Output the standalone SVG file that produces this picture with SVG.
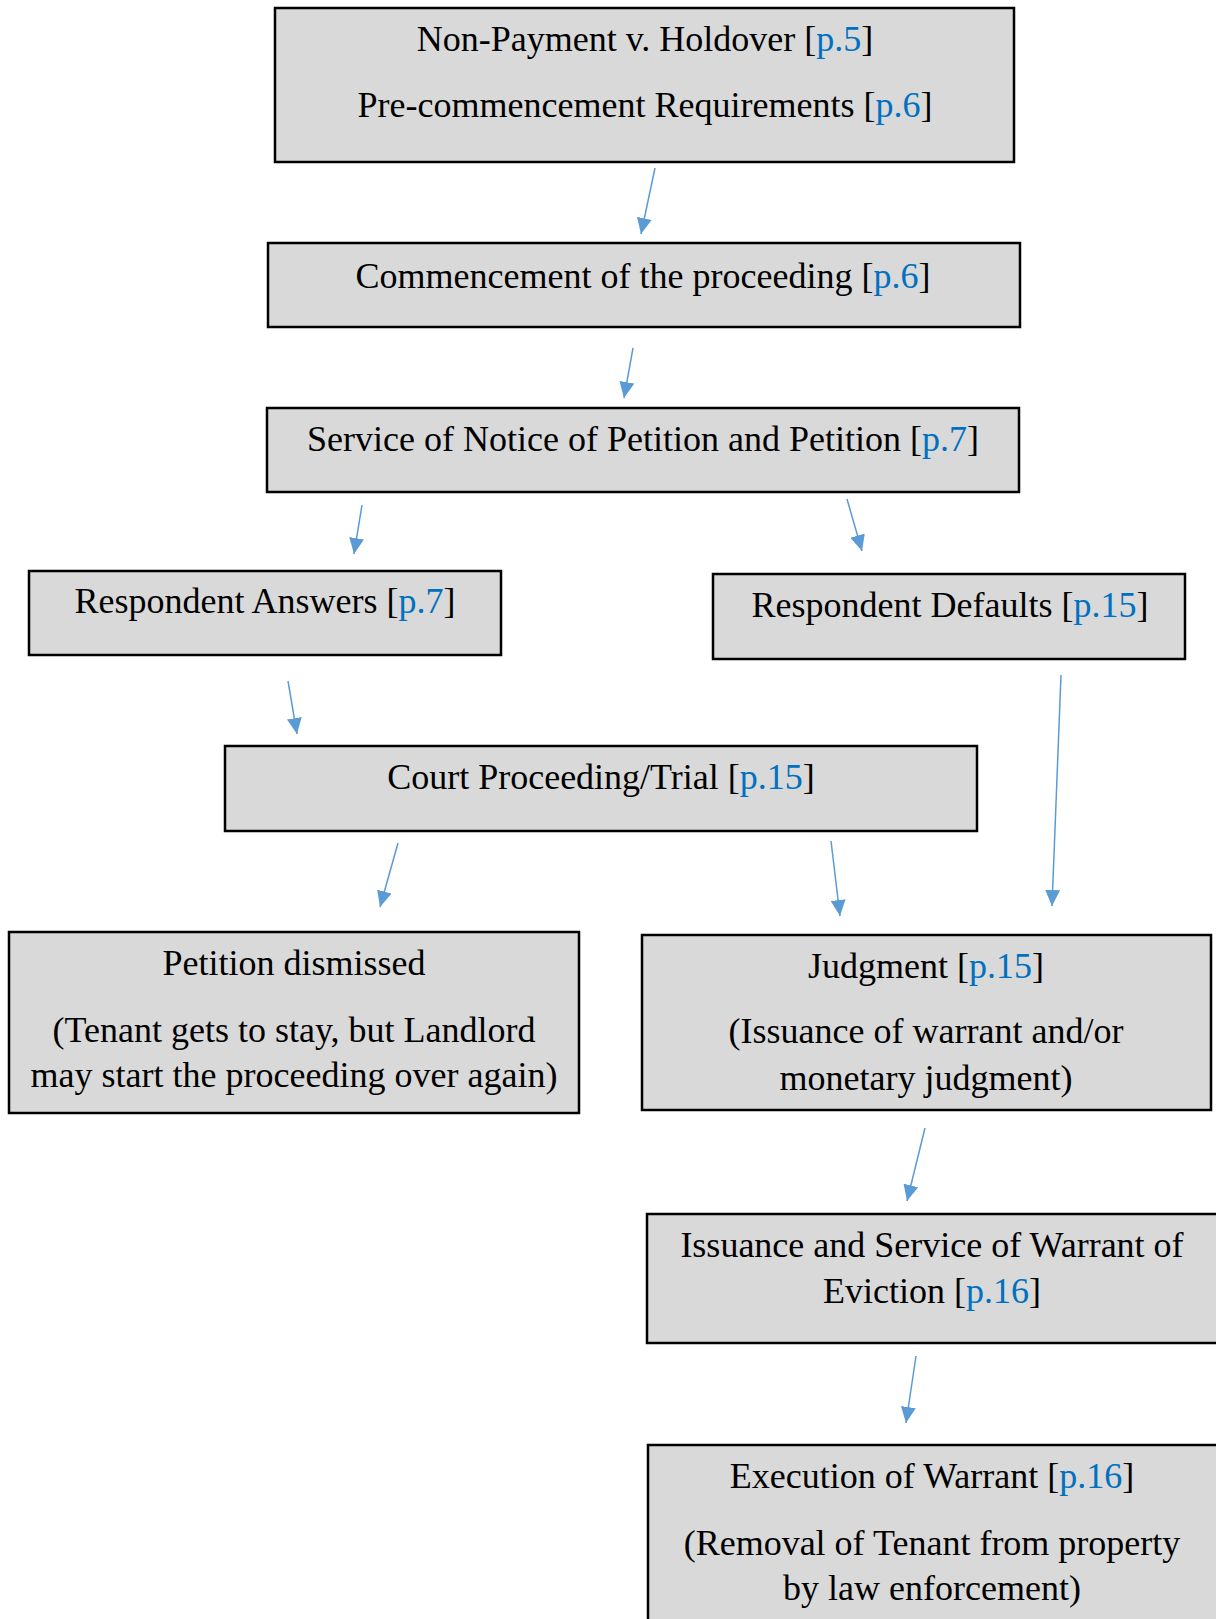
<svg xmlns="http://www.w3.org/2000/svg" width="1216" height="1619" viewBox="0 0 1216 1619">
<style>
.box{fill:#D9D9D9;stroke:#000;stroke-width:2.5}
.t{font-family:"Liberation Serif","Times New Roman",serif;font-size:36px;fill:#000;text-anchor:middle}
.l{fill:#0070C0}
.c{stroke:#5B9BD5;stroke-width:1.5;fill:none;marker-end:url(#ah)}
</style>
<defs>
<marker id="ah" viewBox="0 0 16 15" markerWidth="16" markerHeight="15" refX="16" refY="7.5" orient="auto" markerUnits="userSpaceOnUse">
<path d="M0,0 L16,7.5 L0,15 z" fill="#5B9BD5"/>
</marker>
</defs>
<rect width="1216" height="1619" fill="#fff"/>
<g id="n1"><rect class="box" x="275" y="8" width="739" height="154"/>
<text class="t" x="645" y="51">Non-Payment v. Holdover [<tspan class="l">p.5</tspan>]</text>
<text class="t" x="645" y="117">Pre-commencement Requirements [<tspan class="l">p.6</tspan>]</text></g>
<g id="n2"><rect class="box" x="268" y="243" width="752" height="84"/>
<text class="t" x="643" y="288">Commencement of the proceeding [<tspan class="l">p.6</tspan>]</text></g>
<g id="n3"><rect class="box" x="267" y="408" width="752" height="84"/>
<text class="t" x="643" y="451">Service of Notice of Petition and Petition [<tspan class="l">p.7</tspan>]</text></g>
<g id="n4"><rect class="box" x="29" y="571" width="472" height="84"/>
<text class="t" x="265" y="613">Respondent Answers [<tspan class="l">p.7</tspan>]</text></g>
<g id="n5"><rect class="box" x="713" y="574" width="472" height="85"/>
<text class="t" x="950" y="617">Respondent Defaults [<tspan class="l">p.15</tspan>]</text></g>
<g id="n6"><rect class="box" x="225" y="746" width="752" height="85"/>
<text class="t" x="601" y="789">Court Proceeding/Trial [<tspan class="l">p.15</tspan>]</text></g>
<g id="n7"><rect class="box" x="9" y="932" width="570" height="181"/>
<text class="t" x="294" y="975">Petition dismissed</text>
<text class="t" x="294" y="1042">(Tenant gets to stay, but Landlord</text>
<text class="t" x="294" y="1087">may start the proceeding over again)</text></g>
<g id="n8"><rect class="box" x="642" y="935" width="569" height="175"/>
<text class="t" x="926" y="978">Judgment [<tspan class="l">p.15</tspan>]</text>
<text class="t" x="926" y="1043">(Issuance of warrant and/or</text>
<text class="t" x="926" y="1090">monetary judgment)</text></g>
<g id="n9"><rect class="box" x="647" y="1214" width="580" height="129"/>
<text class="t" x="932" y="1257">Issuance and Service of Warrant of</text>
<text class="t" x="932" y="1303">Eviction [<tspan class="l">p.16</tspan>]</text></g>
<g id="n10"><rect class="box" x="648" y="1445" width="580" height="200"/>
<text class="t" x="932" y="1488">Execution of Warrant [<tspan class="l">p.16</tspan>]</text>
<text class="t" x="932" y="1555">(Removal of Tenant from property</text>
<text class="t" x="932" y="1600">by law enforcement)</text></g>
<g id="connectors">
<line class="c" x1="655" y1="168" x2="641" y2="234"/>
<line class="c" x1="633" y1="348" x2="624" y2="398"/>
<line class="c" x1="362" y1="505" x2="354" y2="554"/>
<line class="c" x1="847" y1="499" x2="862" y2="551"/>
<line class="c" x1="288" y1="681" x2="297" y2="734"/>
<line class="c" x1="398" y1="843" x2="380" y2="907"/>
<line class="c" x1="831" y1="841" x2="840" y2="916"/>
<line class="c" x1="1061" y1="675" x2="1052" y2="906"/>
<line class="c" x1="925" y1="1128" x2="907" y2="1201"/>
<line class="c" x1="916" y1="1356" x2="906" y2="1423"/>
</g>
</svg>
